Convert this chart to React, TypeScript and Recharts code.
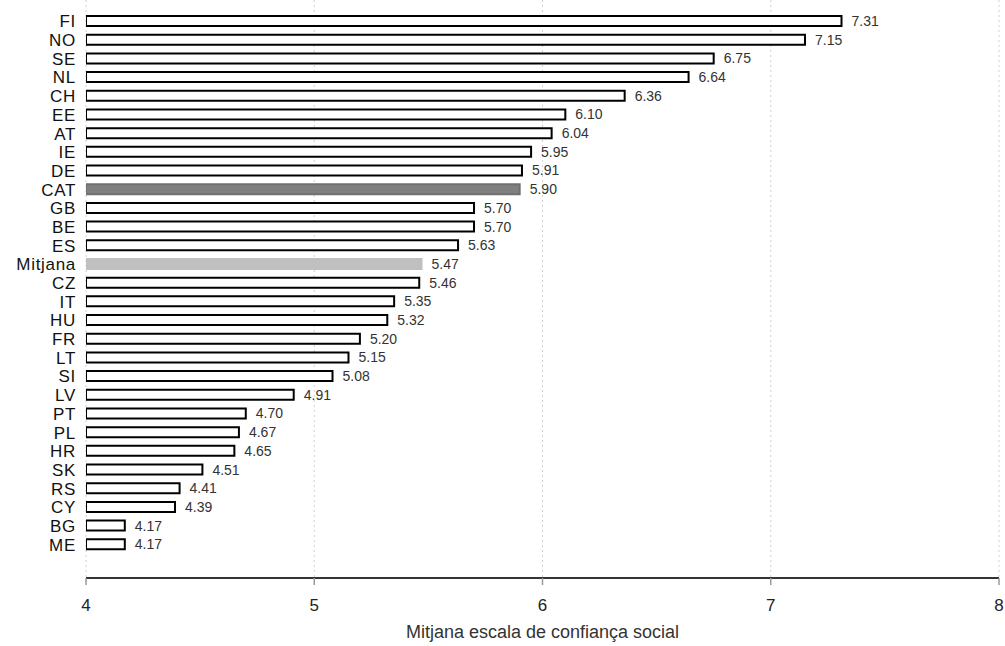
import React from 'react';
import { BarChart, Bar, XAxis, YAxis, CartesianGrid, Cell, LabelList } from 'recharts';

const countries = ["FI","NO","SE","NL","CH","EE","AT","IE","DE","CAT","GB","BE","ES","Mitjana","CZ","IT","HU","FR","LT","SI","LV","PT","PL","HR","SK","RS","CY","BG","ME"];
const values = [7.31,7.15,6.75,6.64,6.36,6.10,6.04,5.95,5.91,5.90,5.70,5.70,5.63,5.47,5.46,5.35,5.32,5.20,5.15,5.08,4.91,4.70,4.67,4.65,4.51,4.41,4.39,4.17,4.17];
const xTicks = [4, 5, 6, 7, 8];
const axisTitle = "Mitjana escala de confiança social";

const data = countries.map((c, i) => ({ name: c, value: values[i] }));

const fillFor = (name: string) => (name === 'CAT' ? '#808080' : name === 'Mitjana' ? '#c0c0c0' : '#ffffff');
const strokeFor = (name: string) => (name === 'CAT' ? '#707070' : name === 'Mitjana' ? '#c0c0c0' : '#000000');

const FONT = 'Liberation Sans, Arial, sans-serif';

export default function App() {
  return (
    <div style={{ position: 'absolute', left: 0, top: 0, background: '#fff' }}>
      <BarChart
        width={1005}
        height={646}
        data={data}
        layout="vertical"
        margin={{ top: 0, right: 6, bottom: 8, left: 0 }}
        barSize={10}
      >
        <CartesianGrid horizontal={false} vertical={true} stroke="#d0d0d0" strokeDasharray="2 3" />
        <XAxis
          type="number"
          domain={[4, 8]}
          ticks={xTicks}
          allowDataOverflow
          height={60}
          axisLine={{ stroke: '#333', strokeWidth: 2 }}
          tickLine={{ stroke: '#999', strokeWidth: 1.5 }}
          tickSize={7}
          tickMargin={14}
          tick={{ fontSize: 17, fill: '#222', fontFamily: FONT }}
          label={{ value: axisTitle, position: 'insideBottom', offset: 0, fontSize: 18, fill: '#333', fontFamily: FONT }}
        />
        <YAxis
          type="category"
          dataKey="name"
          width={86}
          axisLine={false}
          tickLine={false}
          tickMargin={4}
          interval={0}
          padding={{ top: 12, bottom: 24 }}
          tick={{ fontSize: 17, fill: '#111', fontFamily: FONT, letterSpacing: 0.7 }}
        />
        <Bar dataKey="value" isAnimationActive={false} strokeWidth={2}>
          {data.map((d) => (
            <Cell key={d.name} fill={fillFor(d.name)} stroke={strokeFor(d.name)} />
          ))}
          <LabelList
            dataKey="value"
            position="right"
            offset={10}
            formatter={(v: number) => v.toFixed(2)}
            style={{ fontSize: 14, fill: '#333', fontFamily: FONT }}
          />
        </Bar>
      </BarChart>
    </div>
  );
}
